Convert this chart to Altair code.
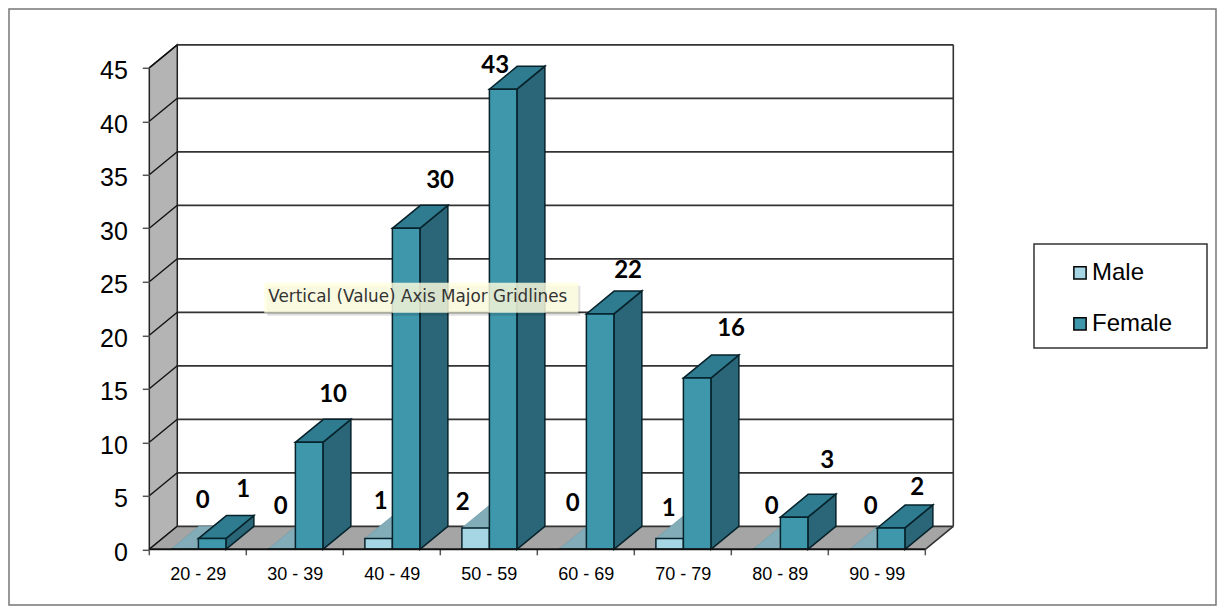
import altair as alt
import pandas as pd

categories = ["20 - 29", "30 - 39", "40 - 49", "50 - 59", "60 - 69", "70 - 79", "80 - 89", "90 - 99"]
male = [0, 0, 1, 2, 0, 1, 0, 0]
female = [1, 10, 30, 43, 22, 16, 3, 2]
y_ticks = [0, 5, 10, 15, 20, 25, 30, 35, 40, 45]
series = ["Male", "Female"]

# pixel nudges of the value labels, relative to the top of each bar
male_label_dx = [18, -1, 2, -13, 0, -1, 5, 7]
male_label_dy = [-49, -43, -38, -26, -46, -31, -43, -43]
female_label_dx = [31, 24, 34, -8, 28, 34, 33, 26]
female_label_dy = [-50, -48, -48, -24, -44, -50, -57, -41]

N = len(categories)
DX = 28 / 97.05      # depth of the oblique projection, category units
DY = 23 / 10.7       # depth of the oblique projection, value units
BAR = 0.2835
START = 0.2225
PX_X = 97.05
PX_Y = 10.7

W = 804
H = 504.5
PAD_L = 141.3
PAD_T = 36.8
TOTAL_W = 1209
TOTAL_H = 598

x_scale = alt.Scale(domain=[0, N + DX], nice=False, zero=False)
y_scale = alt.Scale(domain=[0, 45 + DY], nice=False, zero=False)
label_expr = "[" + ",".join("'%s'" % c for c in categories) + "][floor(datum.value)]"
x_axis = alt.Axis(
    values=[i + 0.5 for i in range(N)], labelExpr=label_expr, title=None, domain=False,
    grid=False, ticks=False, labelFont="Liberation Sans", labelFontSize=18,
    labelColor="#000000", labelPadding=16, labelOverlap=False, labelFlush=False, zindex=1)
y_axis = alt.Axis(
    values=y_ticks, title=None, domain=False, grid=False, tickColor="#555555",
    tickSize=7, tickWidth=1.5, labelFont="Liberation Sans", labelFontSize=25,
    labelColor="#000000", labelPadding=15, labelOffset=3, labelOverlap=False, zindex=1)
X = alt.X("x:Q", scale=x_scale, axis=x_axis)
Y = alt.Y("y:Q", scale=y_scale, axis=y_axis, stack=None)

DARK = "#06222b"


def segments(rows):
    return pd.DataFrame(rows, columns=["x", "x2", "y", "y2"])


def rules(rows, **kw):
    return alt.Chart(segments(rows)).mark_rule(**kw).encode(
        x=X, x2=alt.X2("x2"), y=Y, y2=alt.Y2("y2"))


def side_faces(x_left, values):
    rows = []
    for i, (xl, v) in enumerate(zip(x_left, values)):
        rows.append({"id": i, "x": xl, "y": 0, "y2": v})
        rows.append({"id": i, "x": xl + DX, "y": DY, "y2": v + DY})
    return pd.DataFrame(rows)


def top_faces(x_left, width, values):
    rows = []
    for i, (xl, v) in enumerate(zip(x_left, values)):
        rows.append({"id": i, "x": xl, "x2": xl + width, "y": v})
        rows.append({"id": i, "x": xl + DX, "x2": xl + width + DX, "y": v + DY})
    return pd.DataFrame(rows)


def area_v(df, **kw):
    return alt.Chart(df).mark_area(orient="vertical", **kw).encode(
        x=X, y=Y, y2=alt.Y2("y2"), detail="id:N")


def area_h(df, **kw):
    return alt.Chart(df).mark_area(orient="horizontal", **kw).encode(
        x=X, x2=alt.X2("x2"), y=Y, detail="id:N")


def box(x0, x1, y0, y1, **kw):
    return alt.Chart(pd.DataFrame({"a": [0]})).mark_rect(**kw).encode(
        x=alt.value(x0), x2=alt.value(x1), y=alt.value(y0), y2=alt.value(y1))


x_male = [i + START for i in range(N)]
x_female = [i + START + BAR for i in range(N)]

# outer frame
frame = box(-140.3, 1066.7, -35.8, 560.2, fill="#ffffff", stroke="#777777", strokeWidth=1.5)

# left wall
wall = area_v(pd.DataFrame([
    {"id": 0, "x": 0, "y": 0, "y2": 45},
    {"id": 0, "x": DX, "y": DY, "y2": 45 + DY},
]), fill="#b4b4b4", stroke="#222222", strokeWidth=1.5)

# floor
floor = area_h(pd.DataFrame([
    {"id": 0, "x": 0, "x2": N, "y": 0},
    {"id": 0, "x": DX, "x2": N + DX, "y": DY},
]), fill="#a5a5a5")

# grid on the back wall and the left wall
back_grid = rules([[DX, N + DX, v + DY, v + DY] for v in y_ticks], color="#333333", strokeWidth=1.8)
side_grid = rules([[0, DX, v, v + DY] for v in y_ticks], color="#111111", strokeWidth=1.4)
edges = rules([
    [N + DX, N + DX, DY, 45 + DY],
    [N, N + DX, 0, DY],
], color="#333333", strokeWidth=1.6)
base_line = rules([[0, N, 0, 0]], color="#111111", strokeWidth=2)

ticks = alt.Chart(pd.DataFrame({"x": list(range(N + 1))})).mark_rule(
    color="#555555", strokeWidth=1.5
).encode(x=X, y=alt.value(H), y2=alt.value(H + 6))

# bars
male_top = area_h(top_faces(x_male, BAR, male), fill="#82acb8", stroke="#75a0ac", strokeWidth=0.8)
female_side = area_v(side_faces([x + BAR for x in x_female], female),
                     fill="#2a6677", stroke=DARK, strokeWidth=1.5)
female_top = area_h(top_faces(x_female, BAR, female),
                    fill="#2f7b8f", stroke=DARK, strokeWidth=1.5)

front_df = pd.DataFrame(
    [{"x": x, "x2": x + BAR, "y": 0, "y2": v, "s": series[0]} for x, v in zip(x_male, male)]
    + [{"x": x, "x2": x + BAR, "y": 0, "y2": v, "s": series[1]} for x, v in zip(x_female, female)]
)
fronts = alt.Chart(front_df).mark_rect(stroke=DARK, strokeWidth=1.5).encode(
    x=X, x2=alt.X2("x2"), y=Y, y2=alt.Y2("y2"),
    fill=alt.Fill("s:N", scale=alt.Scale(domain=series, range=["#a6d5e3", "#3f97ac"]),
                  legend=alt.Legend(
                      title=None, orient="none", legendX=918.7, legendY=216, padding=0,
                      symbolType="square", symbolSize=150, symbolStrokeColor="#000000",
                      symbolStrokeWidth=1.5, labelFont="Liberation Sans", labelFontSize=24,
                      labelColor="#000000", labelOffset=0, rowPadding=27, labelLimit=200)),
)

# value labels
label_rows = []
for i in range(N):
    cx_m = x_male[i] + BAR / 2
    cx_f = x_female[i] + BAR / 2
    label_rows.append({"x": cx_m + male_label_dx[i] / PX_X,
                       "y": male[i] - male_label_dy[i] / PX_Y, "t": str(male[i])})
    label_rows.append({"x": cx_f + female_label_dx[i] / PX_X,
                       "y": female[i] - female_label_dy[i] / PX_Y, "t": str(female[i])})
value_labels = alt.Chart(pd.DataFrame(label_rows)).mark_text(
    font="Lato", fontSize=24, fontWeight="bold", color="#000000", baseline="middle",
    align="center", dy=1
).encode(x=X, y=Y, text="t:N")

# legend frame
legend_box = box(884.7, 1057.7, 199.2, 303.2, fill="#ffffff", stroke="#333333", strokeWidth=1.5)

# hover note
tip_shadow = box(118, 431, 241, 271, fill="#000000", opacity=0.12)
tip_box = box(115, 429, 238, 268, fill="#ffffe0", opacity=0.82)
tip_text = alt.Chart(pd.DataFrame({"t": ["Vertical (Value) Axis Major Gridlines"]})).mark_text(
    font="DejaVu Sans", fontSize=16.8, color="#333333", align="left", baseline="middle"
).encode(x=alt.value(119), y=alt.value(252), text="t:N")

chart = alt.layer(
    frame, legend_box, wall, floor, back_grid, side_grid, edges, ticks,
    male_top, female_side, female_top, fronts, base_line, value_labels,
    tip_shadow, tip_box, tip_text,
).properties(
    width=W,
    height=H,
    padding={"left": PAD_L, "top": PAD_T, "right": TOTAL_W - PAD_L - W, "bottom": TOTAL_H - PAD_T - H},
    autosize=alt.AutoSizeParams(type="none"),
    background="#ffffff",
).configure_view(stroke=None)

chart.save("out.html", embed_options={"renderer": "svg", "actions": False})
